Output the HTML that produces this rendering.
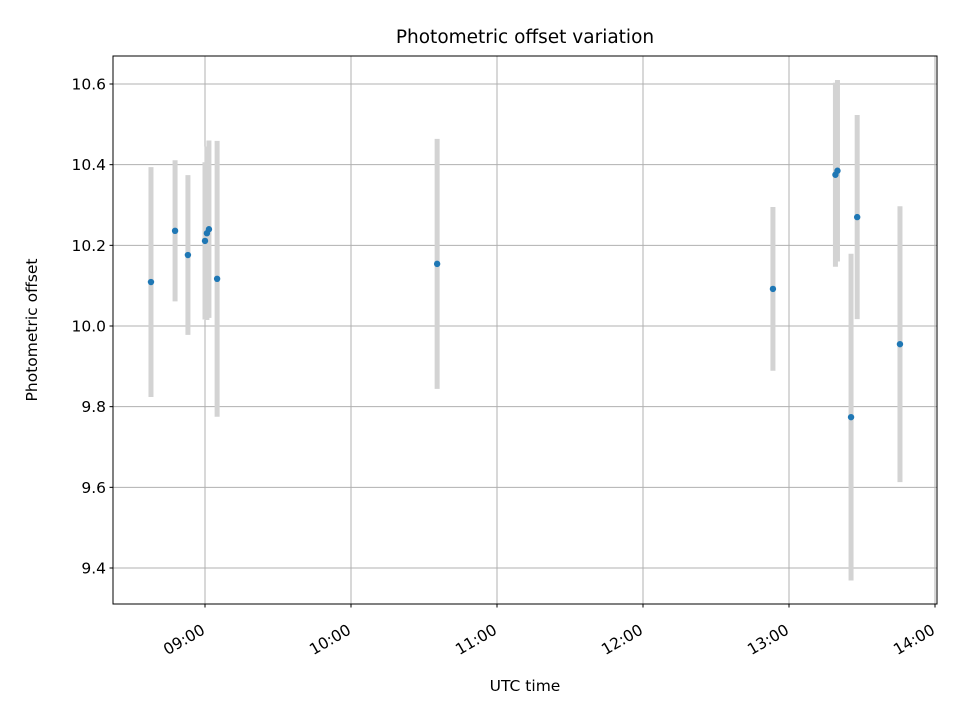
<!DOCTYPE html>
<html><head><meta charset="utf-8"><style>
html,body{margin:0;padding:0;background:#fff;}
svg text{font-family:"DejaVu Sans","Liberation Sans",sans-serif;fill:#000;}
</style></head><body>
<svg id="chart" width="960" height="720" xmlns="http://www.w3.org/2000/svg">
<rect width="960" height="720" fill="#fff"/>
<g id="grid"></g>
<g id="bars"></g>
<g id="points"></g>
<rect x="113" y="56" width="824" height="548" fill="none" stroke="#000" stroke-width="1"/>
<g id="axes"></g>
<text x="525" y="43" font-size="18.5" text-anchor="middle">Photometric offset variation</text>
<text x="525" y="691" font-size="15.5" text-anchor="middle">UTC time</text>
<text x="37" y="330" font-size="15.5" text-anchor="middle" transform="rotate(-90 37 330)">Photometric offset</text>
</svg>
<script>
// times in decimal hours UTC
const times = [8.630, 8.795, 8.883, 9.000, 9.013, 9.027, 9.083, 10.590, 12.890, 13.318, 13.332, 13.425, 13.467, 13.760];
const offsets = [10.109, 10.236, 10.176, 10.211, 10.230, 10.240, 10.117, 10.154, 10.092, 10.375, 10.385, 9.774, 10.270, 9.955];
const errors = [0.285, 0.175, 0.198, 0.195, 0.215, 0.22, 0.342, 0.31, 0.203, 0.228, 0.225, 0.405, 0.253, 0.342];
const yTicks = [9.4, 9.6, 9.8, 10.0, 10.2, 10.4, 10.6];
const xTicks = [9, 10, 11, 12, 13, 14];
const xTickLabels = ["09:00", "10:00", "11:00", "12:00", "13:00", "14:00"];

const NS = "http://www.w3.org/2000/svg";
const L = 113, R = 937, T = 56, B = 604;
function xs(h){ return 205 + (h - 9) * 146; }
function ys(v){ return 326 - (v - 10.0) * 403.33; }
function mk(tag, attrs, parent){
  const e = document.createElementNS(NS, tag);
  for (const k in attrs) e.setAttribute(k, attrs[k]);
  document.getElementById(parent).appendChild(e);
  return e;
}
yTicks.forEach((t,i)=>{
  const y = ys(t);
  const g = mk("line",{x1:L,x2:R,y1:y,y2:y,stroke:"#b0b0b0","stroke-width":1},"grid");
  
  
  const tk = mk("line",{x1:L-3.5,x2:L,y1:y,y2:y,stroke:"#000"},"axes");
  
  
  const tx = mk("text",{x:L-7,y:y+5.5,"font-size":15.5,"text-anchor":"end"},"axes");
  tx.textContent = t.toFixed(1);
  
  
});
xTicks.forEach((t,i)=>{
  const x = xs(t);
  const g = mk("line",{x1:x,x2:x,y1:T,y2:B,stroke:"#b0b0b0","stroke-width":1},"grid");
  
  
  const tk = mk("line",{x1:x,x2:x,y1:B,y2:B+3.5,stroke:"#000"},"axes");
  
  
  const ax = x + 1, ay = B + 29;
  const tx = mk("text",{x:ax,y:ay,"font-size":15.5,"text-anchor":"end",transform:`rotate(-30 ${ax} ${ay})`},"axes");
  tx.textContent = xTickLabels[i];
  
  
});
times.forEach((t,i)=>{
  const x = xs(t);
  const b = mk("line",{x1:x,x2:x,y1:ys(offsets[i]+errors[i]),y2:ys(offsets[i]-errors[i]),stroke:"#d3d3d3","stroke-width":5},"bars");
  
  
  const p = mk("circle",{cx:x,cy:ys(offsets[i]),r:3.2,fill:"#1f77b4"},"points");
  
  
});
</script>
</body></html>
